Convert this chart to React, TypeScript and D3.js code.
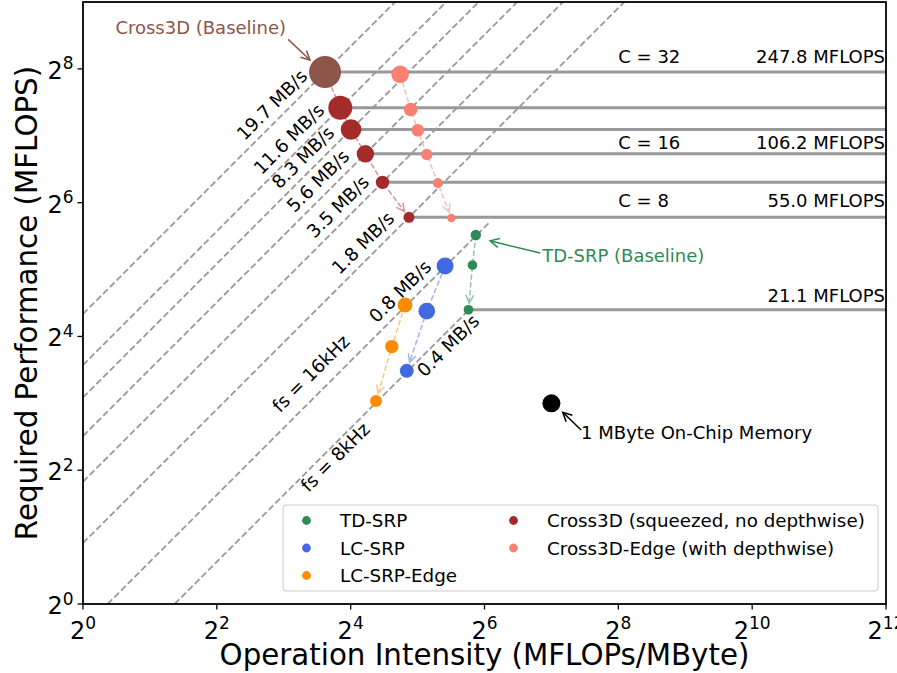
import React from 'react';
import * as d3 from 'd3';

// axis ticks (powers of two)
const xTickPowers = [0, 2, 4, 6, 8, 10, 12];
const yTickPowers = [0, 2, 4, 6, 8];

// memory-bandwidth lines y = bw * x
const bwValues = [20.2, 11.9, 8.5, 5.7, 3.55, 1.88, 0.775, 0.387];
const bwEnds = [4096, 4096, 4096, 4096, 4096, 4096, 68, 54.2];
const bwLabels = ['19.7 MB/s', '11.6 MB/s', '8.3 MB/s', '5.6 MB/s', '3.5 MB/s', '1.8 MB/s', '0.8 MB/s', '0.4 MB/s'];
const bwLabelAt = [10.95, 13.06, 14.48, 16.92, 20.8, 26.97, 39.6, 54.2];
const fsLabels = ['fs = 16kHz', 'fs = 8kHz'];
const fsLabelAt = [12.2, 12.7];

// models
const cross3dBaseX = 12.27;
const cross3dBaseY = 247.8;
const cross3dX = [14.37, 16.06, 18.63, 22.25, 29.26];
const cross3dY = [171, 136.5, 106.2, 79, 55.0];
const edgeX = [26.7, 29.8, 32.07, 35.2, 39.45, 45.4];
const edgeY = [242, 168, 135.5, 105.5, 78.5, 54.6];
const tdX = [58.5, 56.5, 54.2];
const tdY = [45.8, 33.5, 21.1];
const lcX = [42.55, 35.2, 28.6];
const lcY = [33.2, 20.8, 11.2];
const lcEdgeX = [28.1, 24.5, 20.8];
const lcEdgeY = [22.15, 14.4, 8.19];
const memX = 128;
const memY = 8;

// performance levels
const perfLevels = [247.8, 171, 136.5, 106.2, 79, 55.0, 21.1];
const capLabels = ['C = 32', 'C = 16', 'C = 8'];
const capLabelY = [271, 111.5, 60.9];
const mflopsLabels = ['247.8 MFLOPS', '106.2 MFLOPS', '55.0 MFLOPS', '21.1 MFLOPS'];
const mflopsLabelY = [271, 111.5, 60.9, 22.9];

// marker radii (px)
const rBase = 16;
const rCross = [12, 10.3, 8.7, 6.7, 5.5];
const rEdge = [8.8, 6.8, 6.3, 5.7, 5, 4.2];
const rTd = [5.2, 4.8, 4.8];
const rLc = [8.5, 8.3, 7];
const rLcEdge = [7.5, 6.7, 6];

const legendItems = [
  { label: 'TD-SRP', color: '#2e8b57' },
  { label: 'LC-SRP', color: '#4169e1' },
  { label: 'LC-SRP-Edge', color: '#ff8c00' },
  { label: 'Cross3D (squeezed, no depthwise)', color: '#a52a2a' },
  { label: 'Cross3D-Edge (with depthwise)', color: '#fa8072' },
];

const FONT = 'DejaVu Sans, Verdana, sans-serif';

function arrowHead(ax: number, ay: number, bx: number, by: number, shrink: number, len = 8, w = 4) {
  const dx = bx - ax, dy = by - ay;
  const d = Math.hypot(dx, dy);
  const ux = dx / d, uy = dy / d;
  const tx = bx - ux * shrink, ty = by - uy * shrink;
  const nx = -uy, ny = ux;
  const head = `M${tx - ux * len + nx * w},${ty - uy * len + ny * w}L${tx},${ty}L${tx - ux * len - nx * w},${ty - uy * len - ny * w}`;
  return { tx, ty, head };
}

export default function App() {
  const width = 897, height = 673;
  const left = 83, right = 886, bottom = 604, top = 2;
  const x = d3.scaleLog().base(2).domain([1, 4096]).range([left, right]);
  const y = d3.scaleLog().base(2).domain([1, 512]).range([bottom, top]);

  // angle of bandwidth lines in pixel space
  const angle = (Math.atan2(y(2) - y(1), x(2) - x(1)) * 180) / Math.PI;

  const chain = (xs: number[], ys: number[], radii: number[], color: string, key: string) => {
    const pts = xs.map((v, i) => [x(v), y(ys[i])]);
    const n = pts.length;
    const a = arrowHead(pts[n - 2][0], pts[n - 2][1], pts[n - 1][0], pts[n - 1][1], radii[radii.length - 1] + 2);
    const linePts = pts.slice(0, n - 1).concat([[a.tx, a.ty]]);
    const line = d3.line()(linePts as [number, number][]) || '';
    return (
      <g key={key}>
        <path d={line} fill="none" stroke={color} strokeWidth={1.5} strokeDasharray="5.5 2.4" />
        <path d={a.head} fill="none" stroke={color} strokeWidth={1.5} />
      </g>
    );
  };

  const annotation = (
    text: string, tx: number, ty: number, anchor: string,
    fromX: number, fromY: number, toX: number, toY: number, color: string, key: string
  ) => {
    const ax = x(fromX), ay = y(fromY), bx = x(toX), by = y(toY);
    const a = arrowHead(ax, ay, bx, by, 0, 9, 4.5);
    return (
      <g key={key}>
        <text x={x(tx)} y={y(ty)} textAnchor={anchor} fontSize={18} fill={color}>{text}</text>
        <line x1={ax} y1={ay} x2={bx} y2={by} stroke={color} strokeWidth={1.5} />
        <path d={a.head} fill="none" stroke={color} strokeWidth={1.5} />
      </g>
    );
  };

  const perfStarts = [cross3dBaseX, ...cross3dX, tdX[2]];

  return (
    <svg width={width} height={height} style={{ position: 'absolute', left: 0, top: 0 }} fontFamily={FONT}>
      <rect width={width} height={height} fill="#fff" />
      <defs>
        <clipPath id="plot">
          <rect x={left} y={top} width={right - left} height={bottom - top} />
        </clipPath>
      </defs>

      <g clipPath="url(#plot)">
        {bwValues.map((bw, i) => {
          const xs = Math.max(1, 1 / bw);
          return (
            <line key={'bw' + i} x1={x(xs)} y1={y(bw * xs)} x2={x(bwEnds[i])} y2={y(bw * bwEnds[i])}
              stroke="#999" strokeWidth={1.8} strokeDasharray="6.5 3" />
          );
        })}
        {perfLevels.map((p, i) => (
          <line key={'pl' + i} x1={x(perfStarts[i])} y1={y(p)} x2={right} y2={y(p)} stroke="#999" strokeWidth={3} />
        ))}

        {chain([cross3dBaseX, ...cross3dX], [cross3dBaseY, ...cross3dY], rCross, '#d29494', 'c3d')}
        {chain(edgeX, edgeY, rEdge, '#fcbfb8', 'edge')}
        {chain(tdX, tdY, rTd, '#96c5ab', 'td')}
        {chain(lcX, lcY, rLc, '#a0b4f0', 'lc')}
        {chain(lcEdgeX, lcEdgeY, rLcEdge, '#ffc57f', 'lce')}

        <circle cx={x(cross3dBaseX)} cy={y(cross3dBaseY)} r={rBase} fill="#8c564b" />
        {cross3dX.map((v, i) => <circle key={'c' + i} cx={x(v)} cy={y(cross3dY[i])} r={rCross[i]} fill="#a52a2a" />)}
        {edgeX.map((v, i) => <circle key={'e' + i} cx={x(v)} cy={y(edgeY[i])} r={rEdge[i]} fill="#fa8072" />)}
        {tdX.map((v, i) => <circle key={'t' + i} cx={x(v)} cy={y(tdY[i])} r={rTd[i]} fill="#2e8b57" />)}
        {lcX.map((v, i) => <circle key={'l' + i} cx={x(v)} cy={y(lcY[i])} r={rLc[i]} fill="#4169e1" />)}
        {lcEdgeX.map((v, i) => <circle key={'o' + i} cx={x(v)} cy={y(lcEdgeY[i])} r={rLcEdge[i]} fill="#ff8c00" />)}
        <circle cx={x(memX)} cy={y(memY)} r={9} fill="#000" />
      </g>

      {/* bandwidth labels */}
      {bwLabels.map((lab, i) => {
        const px = x(bwLabelAt[i]);
        const py = y(bwValues[i] * bwLabelAt[i]);
        const below = i === 7;
        return (
          <text key={'bl' + i} transform={`translate(${px},${py}) rotate(${angle})`} x={0} y={below ? 17 : -8}
            textAnchor="end" fontSize={18.3} fill="#000">{lab}</text>
        );
      })}
      {fsLabels.map((lab, i) => {
        const bw = bwValues[6 + i];
        const px = x(fsLabelAt[i]);
        const py = y(bw * fsLabelAt[i]);
        return (
          <text key={'fs' + i} transform={`translate(${px},${py}) rotate(${angle})`} x={0} y={i === 0 ? -13 : 16}
            textAnchor="middle" fontSize={18.3} fill="#000">{lab}</text>
        );
      })}

      {capLabels.map((lab, i) => (
        <text key={'cap' + i} x={x(256)} y={y(capLabelY[i])} fontSize={18}>{lab}</text>
      ))}
      {mflopsLabels.map((lab, i) => (
        <text key={'mf' + i} x={right - 1} y={y(mflopsLabelY[i])} textAnchor="end" fontSize={18}>{lab}</text>
      ))}

      {annotation('Cross3D (Baseline)', 8.2, 366, 'end', 8.37, 347.5, 10.5, 280.5, '#8c564b', 'a1')}
      {annotation('TD-SRP (Baseline)', 116.3, 34.5, 'start', 113.9, 37.97, 67.8, 43.1, '#2e8b57', 'a2')}
      {annotation('1 MByte On-Chip Memory', 174.1, 5.5, 'start', 174.1, 6.07, 144, 7.29, '#000', 'a3')}

      {/* legend */}
      <rect x={283} y={505} width={595} height={86} rx={3} fill="#fff" fillOpacity={0.8} stroke="#ccc" strokeWidth={1} />
      {legendItems.map((it, i) => {
        const col = i < 3 ? 0 : 1;
        const row = col === 0 ? i : i - 3;
        const cy = 520.5 + row * 27.5;
        const mx = col === 0 ? 306.5 : 513.5;
        const tx = col === 0 ? 340 : 547;
        return (
          <g key={'lg' + i}>
            <circle cx={mx} cy={cy} r={4.4} fill={it.color} />
            <text x={tx} y={cy + 6.5} fontSize={18.3}>{it.label}</text>
          </g>
        );
      })}

      {/* frame */}
      <rect x={left} y={top} width={right - left} height={bottom - top} fill="none" stroke="#000" strokeWidth={1.8} />

      {/* ticks */}
      {xTickPowers.map((p) => (
        <g key={'xt' + p}>
          <line x1={x(2 ** p)} x2={x(2 ** p)} y1={bottom} y2={bottom + 5.5} stroke="#000" strokeWidth={1.3} />
          <text x={x(2 ** p)} y={bottom + 35} textAnchor="middle" fontSize={24}>
            <tspan>2</tspan>
            <tspan dy={-10} fontSize={17}>{p}</tspan>
          </text>
        </g>
      ))}
      {yTickPowers.map((p) => (
        <g key={'yt' + p}>
          <line x1={left - 5.5} x2={left} y1={y(2 ** p)} y2={y(2 ** p)} stroke="#000" strokeWidth={1.3} />
          <text x={73.5} y={y(2 ** p) + 10} textAnchor="end" fontSize={24}>
            <tspan>2</tspan>
            <tspan dy={-9.5} fontSize={17}>{p}</tspan>
          </text>
        </g>
      ))}

      <text x={(left + right) / 2} y={665} textAnchor="middle" fontSize={29.3}>Operation Intensity (MFLOPs/MByte)</text>
      <text transform={`translate(37,${(top + bottom) / 2}) rotate(-90)`} textAnchor="middle" fontSize={29.3}>
        Required Performance (MFLOPS)
      </text>
    </svg>
  );
}
